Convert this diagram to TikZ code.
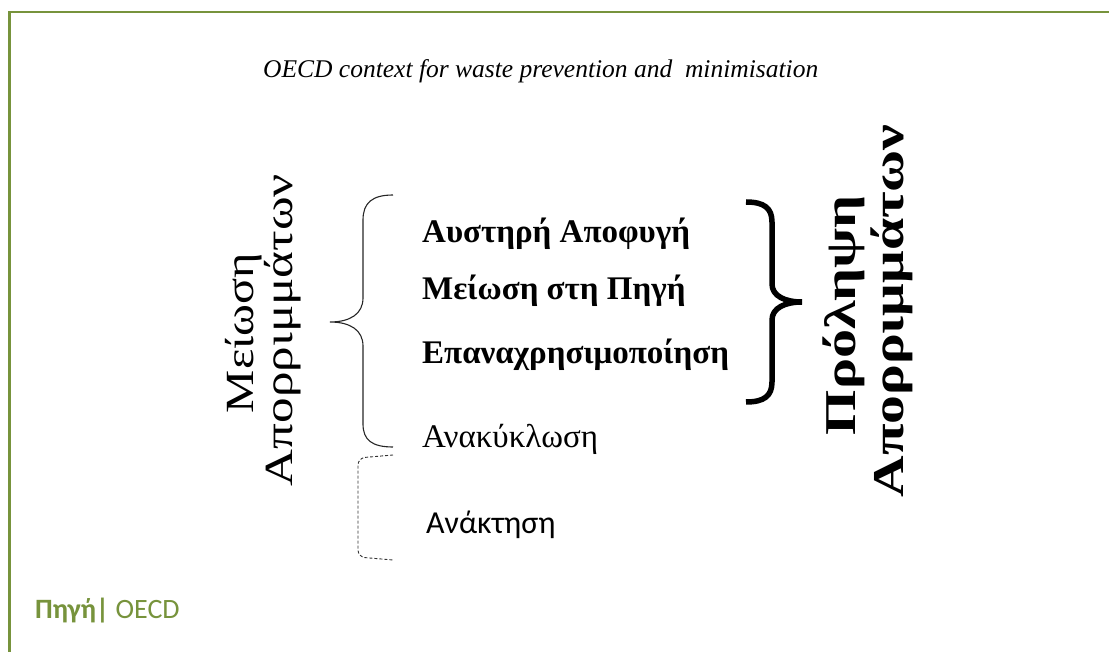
\documentclass[tikz,border=0pt]{standalone}
\usepackage{fontspec}
\usepackage{graphicx}
\setmainfont{Liberation Serif}
\newfontfamily\calibrifont{Carlito}
\definecolor{olivegreen}{HTML}{77933C}
% stretch a text line to a given length, keeping its height
\newcommand{\stretchto}[2]{\resizebox{#1}{\height}{#2}}
\tikzset{
  frameline/.style={draw=olivegreen, line width=2.2pt},
  thinbrace/.style={draw=black!85, line width=1.1pt},
  boldbrace/.style={draw=black, line width=5.5pt},
  dashbrace/.style={draw=black!80, line width=0.9pt, dash pattern=on 3pt off 2pt, rounded corners=7pt},
  item/.style={anchor=base west, inner sep=0pt, font=\fontsize{33}{38}\selectfont\bfseries},
  plainitem/.style={anchor=base west, inner sep=0pt, font=\fontsize{33}{38}\selectfont},
  sideleft/.style={rotate=90, anchor=base, inner sep=0pt, font=\fontsize{40}{44}\selectfont},
  sideright/.style={rotate=90, anchor=base, inner sep=0pt, font=\fontsize{44}{49}\selectfont\bfseries},
}
\begin{document}
\begin{tikzpicture}[x=1pt, y=-1pt]
  \useasboundingbox (0,0) rectangle (1109,652);
  % page frame
  \draw[frameline] (9.5,652) -- (9.5,12) -- (1109,12);

  % title
  \node[anchor=base west, inner sep=0pt, font=\fontsize{25.5}{30}\selectfont\itshape] (title) at (263,78)
    {OECD context for waste prevention and\ \ minimisation};

  % left side caption, two rotated lines
  \node[sideleft] (reduceA) at (253,333) {\stretchto{160pt}{Μείωση}};
  \node[sideleft] (reduceB) at (292,330) {\stretchto{312pt}{Απορριμμάτων}};

  % left curly brace
  \coordinate (lbtop) at (393,195);
  \coordinate (lbtip) at (330,322);
  \coordinate (lbbot) at (393,447);
  \draw[thinbrace] (lbtop) .. controls (372,195) and (363,203) .. (363,220)
    -- (363,298) .. controls (363,314) and (350,322) .. (lbtip)
    .. controls (350,322) and (363,330) .. (363,346)
    -- (363,424) .. controls (363,440) and (372,447) .. (lbbot);

  % dashed bracket
  \coordinate (dbtop) at (393,455);
  \coordinate (dbbot) at (393,560);
  \draw[dashbrace] (dbtop) -- (358,458) -- (358,557) -- (dbbot);

  % items
  \node[item] (avoid) at (422,243) {Αυστηρή Αποφυγή};
  \node[item] (source) at (422,300) {Μείωση στη Πηγή};
  \node[item] (reuse) at (422,363) {Επαναχρησιμοποίηση};
  \node[plainitem] (recycle) at (422,447) {Ανακύκλωση};
  \node[anchor=base west, inner sep=0pt, font=\calibrifont\fontsize{32}{36}\selectfont] (recover) at (426,533) {Ανάκτηση};

  % right bold brace
  \coordinate (rbtop) at (746,202);
  \coordinate (rbtip) at (802,302);
  \coordinate (rbbot) at (746,402);
  \draw[boldbrace] (rbtop) .. controls (764,202) and (772,208) .. (772,222)
    -- (772,284) .. controls (772,296) and (785,302) .. (rbtip)
    .. controls (785,302) and (772,308) .. (772,320)
    -- (772,382) .. controls (772,396) and (764,402) .. (rbbot);

  % right side caption, two rotated lines
  \node[sideright] (preventA) at (855,315) {\stretchto{240pt}{Πρόληψη}};
  \node[sideright] (preventB) at (903,311) {\stretchto{373pt}{Απορριμμάτων}};

  % source line
  \node[anchor=base west, inner sep=0pt, text=olivegreen, font=\calibrifont\fontsize{28}{32}\selectfont] (src) at (35,618)
    {\textbf{Πηγή|} OECD};
\end{tikzpicture}
\end{document}
